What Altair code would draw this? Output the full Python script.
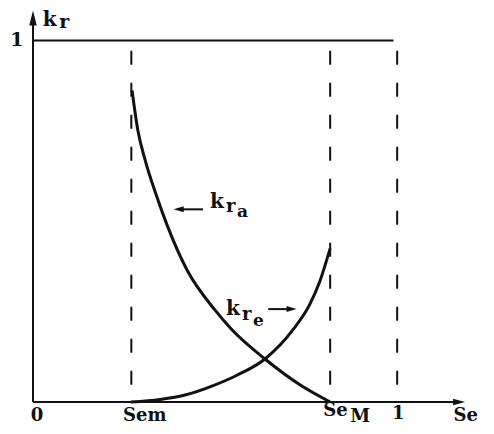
import altair as alt
import pandas as pd

# Curve values (Se, kr)
kra_x = [0.272, 0.288, 0.308, 0.341, 0.368, 0.423, 0.500, 0.547, 0.637, 0.734, 0.816]
kra_y = [0.862, 0.751, 0.669, 0.565, 0.490, 0.365, 0.254, 0.199, 0.119, 0.047, 0.0]
kre_x = [0.269, 0.349, 0.420, 0.486, 0.560, 0.637, 0.714, 0.760, 0.788, 0.816]
kre_y = [0.0, 0.007, 0.020, 0.042, 0.074, 0.119, 0.200, 0.270, 0.335, 0.425]

# Characteristic saturations
se_marks = [0.27, 0.816, 1.0]

FONT = "DejaVu Serif"
X = dict(scale=alt.Scale(domain=[0, 1.2], nice=False, zero=False), axis=None)
Y = dict(scale=alt.Scale(domain=[0, 1.09], nice=False, zero=False), axis=None)

kra = pd.DataFrame({"x": kra_x, "y": kra_y})
kre = pd.DataFrame({"x": kre_x, "y": kre_y})
marks = pd.DataFrame({"x": se_marks, "y": [0.972] * 3, "y2": [0.0] * 3})

# Axes
axes = pd.DataFrame({"x": [0, 0], "y": [0, 0], "x2": [1.165, 0], "y2": [0, 1.05]})
axes_layer = alt.Chart(axes).mark_rule(color="#111", strokeWidth=2).encode(
    x=alt.X("x:Q", **X), y=alt.Y("y:Q", **Y), x2="x2:Q", y2="y2:Q")
arrow_up = alt.Chart(pd.DataFrame({"x": [0], "y": [1.062]})).mark_point(
    shape="M0,-1L0.5,1L-0.5,1Z", size=225, filled=True, color="#111", opacity=1
).encode(x=alt.X("x:Q", **X), y=alt.Y("y:Q", **Y))
arrow_right = alt.Chart(pd.DataFrame({"x": [1.170], "y": [0]})).mark_point(
    shape="M1,0L-1,0.55L-1,-0.55Z", size=144, filled=True, color="#111", opacity=1
).encode(x=alt.X("x:Q", **X), y=alt.Y("y:Q", **Y))

# kr = 1 line
one_line = alt.Chart(pd.DataFrame({"x": [0], "x2": [0.99], "y": [1.0]})).mark_rule(
    color="#111", strokeWidth=2).encode(x=alt.X("x:Q", **X), x2="x2:Q", y=alt.Y("y:Q", **Y))

dashed = alt.Chart(marks).mark_rule(color="#111", strokeWidth=2, strokeDash=[14, 18]).encode(
    x=alt.X("x:Q", **X), y=alt.Y("y:Q", **Y), y2="y2:Q")

kra_line = alt.Chart(kra).mark_line(color="#111", strokeWidth=3, interpolate="monotone").encode(
    x=alt.X("x:Q", **X), y=alt.Y("y:Q", **Y))
kre_line = alt.Chart(kre).mark_line(color="#111", strokeWidth=3, interpolate="monotone").encode(
    x=alt.X("x:Q", **X), y=alt.Y("y:Q", **Y))

# Label pointer arrows
ptr = pd.DataFrame({"x": [0.404, 0.646], "x2": [0.467, 0.706], "y": [0.533, 0.257]})
ptr_lines = alt.Chart(ptr).mark_rule(color="#111", strokeWidth=2).encode(
    x=alt.X("x:Q", **X), x2="x2:Q", y=alt.Y("y:Q", **Y))
ptr_left = alt.Chart(pd.DataFrame({"x": [0.400], "y": [0.533]})).mark_point(
    shape="M-1,0L1,0.6L1,-0.6Z", size=100, filled=True, color="#111", opacity=1
).encode(x=alt.X("x:Q", **X), y=alt.Y("y:Q", **Y))
ptr_right = alt.Chart(pd.DataFrame({"x": [0.710], "y": [0.257]})).mark_point(
    shape="M1,0L-1,0.6L-1,-0.6Z", size=100, filled=True, color="#111", opacity=1
).encode(x=alt.X("x:Q", **X), y=alt.Y("y:Q", **Y))

# Text labels
labels = pd.DataFrame({
    "t": ["0", "Sem", "Se", "M", "1", "Se", "1", "k", "r",
          "k", "r", "a", "k", "r", "e"],
    "x": [0.011, 0.247, 0.797, 0.871, 1.003, 1.155, -0.044, 0.027, 0.072,
          0.486, 0.530, 0.560, 0.530, 0.574, 0.604],
    "y": [-0.052, -0.052, -0.040, -0.054, -0.047, -0.052, 0.986, 1.041, 1.036,
          0.536, 0.525, 0.511, 0.240, 0.227, 0.210],
    "fs": [18, 18, 18, 18, 18, 18, 19, 20, 19,
           20, 18, 17, 20, 18, 17],
    "al": ["center", "left", "left", "left", "center", "left", "center", "left", "left",
           "left", "left", "left", "left", "left", "left"],
})
text_layers = []
for al in ["center", "left"]:
    text_layers.append(
        alt.Chart(labels[labels["al"] == al]).mark_text(
            font=FONT, fontWeight="bold", color="#111", align=al, baseline="alphabetic"
        ).encode(x=alt.X("x:Q", **X), y=alt.Y("y:Q", **Y), text="t:N",
                 size=alt.Size("fs:Q", scale=None, legend=None))
    )

chart = alt.layer(
    dashed, one_line, axes_layer, arrow_up, arrow_right, kra_line, kre_line,
    ptr_lines, ptr_left, ptr_right, *text_layers
).properties(
    width=437, height=394,
    autosize=alt.AutoSizeParams(type="none"),
    padding={"left": 25, "top": 0, "right": 16, "bottom": 24},
    background="white",
).configure_view(stroke=None)

chart.save("out.html", embed_options={"renderer": "svg", "actions": False})
